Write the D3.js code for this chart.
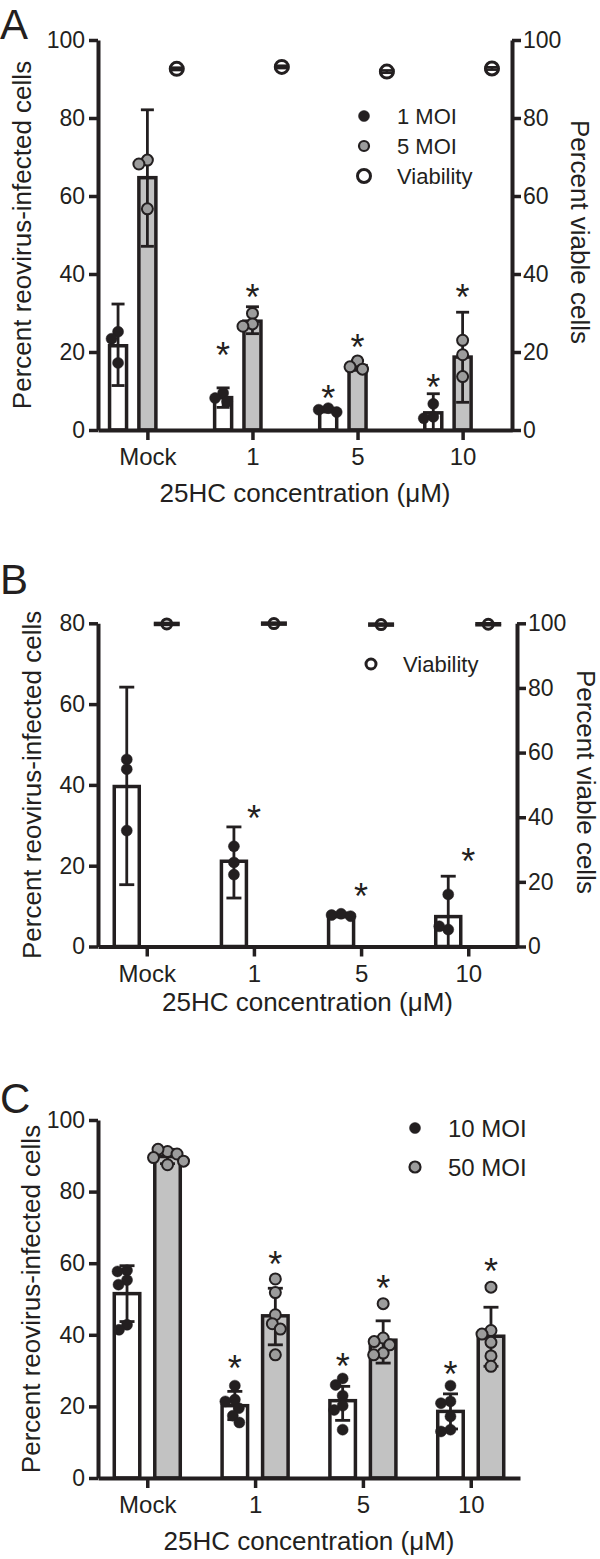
<!DOCTYPE html>
<html><head><meta charset="utf-8">
<script src="https://cdn.jsdelivr.net/npm/d3@7"></script>
<style>
body{margin:0;background:#fff}
svg{display:block}
text{font-family:Arial,"Liberation Sans",Helvetica,sans-serif;fill:#231f20}
</style>
</head><body>
<svg id="chart" width="600" height="1559"></svg>
<script>
// ---------- DATA ----------
const categories = ["Mock", "1", "5", "10"];
const xTitle = "25HC concentration (\u03bcM)";
const yTitleLeft = "Percent reovirus-infected cells";
const yTitleRight = "Percent viable cells";

// Panel A
const aSeriesNames = ["1 MOI", "5 MOI", "Viability"];
const aMoi1Mean = [21.6, 8.3, 5.1, 4.4];
const aMoi1Low = [11.4, 5.8, 4.6, 0];
const aMoi1High = [32.3, 10.8, 5.6, 9.3];
const aMoi1Points = [[25.2, 23.4, 17.2], [9.5, 8.2, 7.3], [5.6, 5.2, 4.6], [6.7, 3.4, 3.0]];
const aMoi1Stars = [null, 21.3, 10.1, 13.1];
const aMoi5Mean = [64.7, 27.9, 16.5, 18.7];
const aMoi5Low = [47.1, 24.7, 15.3, 7.1];
const aMoi5High = [82.1, 31.6, 17.8, 30.2];
const aMoi5Points = [[69.2, 68.2, 56.7], [29.9, 27.2, 26.6], [17.7, 16.2, 15.6], [23.0, 19.3, 13.7]];
const aMoi5Stars = [null, 36.0, 23.2, 36.0];
const aViabMean = [92.6, 93.1, 91.9, 92.7];
const aViabSd = [0.3, 0.3, 0.3, 0.3];
const aLeftTicks = [0, 20, 40, 60, 80, 100];
const aRightTicks = [0, 20, 40, 60, 80, 100];

// Panel B
const bSeriesNames = ["Viability"];
const bMoiMean = [39.6, 21.1, 7.8, 7.4];
const bMoiLow = [15.3, 12.0, 7.3, 0];
const bMoiHigh = [64.2, 29.6, 8.3, 17.4];
const bMoiPoints = [[46.3, 43.9, 28.7], [24.8, 20.8, 17.8], [8.1, 7.8, 7.5], [12.9, 4.2, 5.0]];
const bMoiStars = [null, 33.7, 14.5, 23.1];
const bViabMean = [99.8, 99.9, 99.6, 99.7];
const bViabSd = [0.3, 0.3, 0.3, 0.3];
const bLeftTicks = [0, 20, 40, 60, 80];
const bRightTicks = [0, 20, 40, 60, 80, 100];

// Panel C
const cSeriesNames = ["10 MOI", "50 MOI"];
const cMoi10Mean = [51.5, 20.2, 21.6, 18.6];
const cMoi10Low = [43.7, 16.3, 16.1, 13.7];
const cMoi10High = [59.3, 24.2, 25.6, 23.5];
const cMoi10Points = [[58.0, 57.7, 55.3, 54.0, 42.8, 41.4], [25.8, 21.9, 21.4, 19.5, 17.4, 15.5],
                      [27.8, 26.0, 23.0, 20.2, 19.0, 13.5], [25.8, 21.4, 20.9, 17.2, 13.5, 13.0]];
const cMoi10Stars = [null, 33.0, 33.5, 31.2];
const cMoi50Mean = [89.8, 45.3, 38.5, 39.6];
const cMoi50Low = [87.8, 37.2, 32.1, 31.2];
const cMoi50High = [91.8, 53.0, 43.9, 47.7];
const cMoi50Points = [[91.2, 91.8, 90.5, 89.5, 87.5, 88.5], [55.6, 51.8, 45.6, 43.1, 41.6, 34.4],
                      [48.7, 39.1, 38.1, 37.2, 34.9, 34.4], [53.3, 41.2, 40.2, 37.9, 34.1, 31.2]];
const cMoi50Stars = [null, 61.9, 55.3, 60.0];
const cLeftTicks = [0, 20, 40, 60, 80, 100];

// ---------- DRAWING ----------
const INK = "#231f20", BAR_GRAY = "#c2c2c2", PT_GRAY = "#9c9c9c";
const STAR_FS = 36, TITLE_FS = 26;
const svg = d3.select("#chart");

function swarmOffsets(pys, r) {
  const placed = [], out = [];
  const minD = 2 * r * 0.85;
  pys.forEach(py => {
    let off = 0;
    outer:
    for (let k = 0; k <= 60; k++) {
      const cands = k === 0 ? [0] : [-k * 0.5, k * 0.5];
      for (const c of cands) {
        if (placed.every(p => Math.hypot(p[0] - c, p[1] - py) >= minD)) { off = c; break outer; }
      }
    }
    placed.push([off, py]); out.push(off);
  });
  return out;
}

function styleAxis(sel, fs) {
  sel.select(".domain").attr("stroke", INK).attr("stroke-width", 4);
  sel.selectAll(".tick line").attr("stroke", INK).attr("stroke-width", 3.5);
  sel.selectAll(".tick text").attr("fill", INK).style("font-size", fs + "px")
     .style("font-family", 'Arial,"Liberation Sans",Helvetica,sans-serif');
}

function panel(o) {
  const g = svg.append("g");
  const x = d3.scalePoint().domain(categories).range([o.x0, o.x1]).padding(o.pad);
  const y = d3.scaleLinear().domain([0, o.yMax]).range([o.yBottom, o.yTop]);
  const slot = d3.scaleBand().domain(o.slots).range([-o.slotSpan / 2, o.slotSpan / 2]);
  const sc = name => slot(name) + slot.bandwidth() / 2;

  // bars
  o.bars.forEach(s => {
    categories.forEach((c, i) => {
      const cx = x(c) + sc(s.name);
      g.append("rect")
        .attr("x", cx - o.barW / 2).attr("y", y(s.mean[i]))
        .attr("width", o.barW).attr("height", y(0) - y(s.mean[i]))
        .attr("fill", s.fill).attr("stroke", INK).attr("stroke-width", 3.5);
    });
  });
  // error bars
  o.bars.forEach(s => {
    categories.forEach((c, i) => {
      const cx = x(c) + sc(s.name);
      const lo = y(Math.max(0, s.low[i])), hi = y(s.high[i]);
      const eg = g.append("g").attr("stroke", INK).attr("stroke-width", 2.8);
      eg.append("line").attr("x1", cx).attr("x2", cx).attr("y1", lo).attr("y2", hi);
      eg.append("line").attr("x1", cx - o.capW).attr("x2", cx + o.capW).attr("y1", hi).attr("y2", hi);
      if (s.low[i] > 0) eg.append("line").attr("x1", cx - o.capW).attr("x2", cx + o.capW).attr("y1", lo).attr("y2", lo);
    });
  });
  // points
  o.bars.forEach(s => {
    categories.forEach((c, i) => {
      const cx = x(c) + sc(s.name);
      const pys = s.points[i].map(v => y(v));
      const offs = swarmOffsets(pys, o.ptR);
      pys.forEach((py, j) => {
        g.append("circle").attr("cx", cx + offs[j]).attr("cy", py).attr("r", o.ptR)
          .attr("fill", s.ptFill).attr("stroke", INK).attr("stroke-width", s.ptFill === INK ? 0.5 : 2);
      });
    });
  });
  // stars
  o.bars.forEach(s => {
    categories.forEach((c, i) => {
      if (s.stars[i] == null) return;
      const cx = x(c) + (o.starAtTick ? 0 : sc(s.name));
      g.append("text").attr("x", cx).attr("y", y(s.stars[i]) + 0.58 * STAR_FS)
        .attr("text-anchor", "middle").style("font-size", STAR_FS + "px").text("*");
    });
  });

  // viability (right axis)
  let yR = null;
  if (o.viab) {
    yR = d3.scaleLinear().domain([0, 100]).range([o.yBottom, o.yTop]);
    categories.forEach((c, i) => {
      const cx = x(c) + sc("Viability");
      const m = yR(o.viab.mean[i]);
      const lo = yR(o.viab.mean[i] - o.viab.sd[i]), hi = yR(o.viab.mean[i] + o.viab.sd[i]);
      g.append("circle").attr("cx", cx).attr("cy", m).attr("r", o.viab.r)
        .attr("fill", "#fff").attr("stroke", INK).attr("stroke-width", 3);
      const eg = g.append("g").attr("stroke", INK).attr("stroke-width", 2.6);
      eg.append("line").attr("x1", cx).attr("x2", cx).attr("y1", lo).attr("y2", hi);
      [lo, hi].forEach(yy => eg.append("line").attr("x1", cx - o.viab.capW).attr("x2", cx + o.viab.capW).attr("y1", yy).attr("y2", yy));
    });
  }

  // axes
  const ax = g.append("g").attr("transform", `translate(${o.x0},0)`)
    .call(d3.axisLeft(y).tickValues(o.leftTicks).tickSize(9).tickSizeOuter(0).tickPadding(4));
  styleAxis(ax, 23);
  const bx = g.append("g").attr("transform", `translate(0,${o.yBottom})`)
    .call(d3.axisBottom(x).tickSize(10).tickSizeOuter(0).tickPadding(8));
  styleAxis(bx, 24);
  if (yR) {
    const rx = g.append("g").attr("transform", `translate(${o.x1},0)`)
      .call(d3.axisRight(yR).tickValues(o.rightTicks).tickSize(9).tickSizeOuter(0).tickPadding(2));
    styleAxis(rx, 23);
    g.append("text").attr("transform", `translate(${o.rTitleX},${(o.yBottom + o.yTop) / 2 - 3}) rotate(90)`)
      .attr("text-anchor", "middle").style("font-size", TITLE_FS + "px").text(yTitleRight);
  }
  // titles
  g.append("text").attr("transform", `translate(${o.lTitleX},${(o.yBottom + o.yTop) / 2}) rotate(-90)`)
    .attr("text-anchor", "middle").style("font-size", TITLE_FS + "px").text(yTitleLeft);
  g.append("text").attr("x", (o.x0 + o.x1) / 2).attr("y", o.xTitleY)
    .attr("text-anchor", "middle").style("font-size", TITLE_FS + "px").text(xTitle);
  g.append("text").attr("x", 0).attr("y", o.letterY).style("font-size", "42px").text(o.letter);

  // legend
  o.legend.forEach((L, k) => {
    const ly = o.legY + k * o.legStep;
    if (L.kind === "open") {
      g.append("circle").attr("cx", o.legX).attr("cy", ly).attr("r", L.r)
        .attr("fill", "#fff").attr("stroke", INK).attr("stroke-width", 3);
    } else {
      g.append("circle").attr("cx", o.legX).attr("cy", ly).attr("r", L.r)
        .attr("fill", L.fill).attr("stroke", INK).attr("stroke-width", L.fill === INK ? 0.5 : 2.2);
    }
    g.append("text").attr("x", o.legX + o.legGap).attr("y", ly).attr("dy", "0.36em")
      .style("font-size", o.legFs + "px").text(L.label);
  });
}

// Panel A
panel({
  letter: "A", letterY: 39,
  x0: 98, x1: 512, pad: 0.47, yBottom: 430, yTop: 40, yMax: 100,
  slots: ["1 MOI", "5 MOI", "Viability"], slotSpan: 88, barW: 17, capW: 6.5, ptR: 5.5,
  leftTicks: aLeftTicks, rightTicks: aRightTicks,
  bars: [
    { name: "1 MOI", mean: aMoi1Mean, low: aMoi1Low, high: aMoi1High, points: aMoi1Points, stars: aMoi1Stars, fill: "#fff", ptFill: INK },
    { name: "5 MOI", mean: aMoi5Mean, low: aMoi5Low, high: aMoi5High, points: aMoi5Points, stars: aMoi5Stars, fill: BAR_GRAY, ptFill: PT_GRAY }
  ],
  viab: { mean: aViabMean, sd: aViabSd, r: 6.5, capW: 7.5 },
  lTitleX: 31, rTitleX: 571, xTitleY: 502,
  legX: 364, legY: 116, legStep: 30, legGap: 33, legFs: 22,
  legend: [
    { label: aSeriesNames[0], kind: "fill", fill: INK, r: 5.5 },
    { label: aSeriesNames[1], kind: "fill", fill: PT_GRAY, r: 5 },
    { label: aSeriesNames[2], kind: "open", r: 6.5 }
  ]
});

// Panel B
panel({
  letter: "B", letterY: 594,
  x0: 98, x1: 517, pad: 0.455, yBottom: 946.5, yTop: 623.3, yMax: 80,
  slots: ["1 MOI", "Viability"], slotSpan: 80, barW: 25, capW: 7.5, ptR: 5.5, starAtTick: true,
  leftTicks: bLeftTicks, rightTicks: bRightTicks,
  bars: [
    { name: "1 MOI", mean: bMoiMean, low: bMoiLow, high: bMoiHigh, points: bMoiPoints, stars: bMoiStars, fill: "#fff", ptFill: INK }
  ],
  viab: { mean: bViabMean, sd: bViabSd, r: 5, capW: 13 },
  lTitleX: 41, rTitleX: 577, xTitleY: 1011,
  legX: 371, legY: 664, legStep: 30, legGap: 32, legFs: 22,
  legend: [{ label: bSeriesNames[0], kind: "open", r: 5 }]
});

// Panel C
panel({
  letter: "C", letterY: 1113,
  x0: 98, x1: 520, pad: 0.457, yBottom: 1478, yTop: 1120, yMax: 100,
  slots: ["10 MOI", "50 MOI"], slotSpan: 81, barW: 25.5, capW: 7.5, ptR: 5.5,
  leftTicks: cLeftTicks,
  bars: [
    { name: "10 MOI", mean: cMoi10Mean, low: cMoi10Low, high: cMoi10High, points: cMoi10Points, stars: cMoi10Stars, fill: "#fff", ptFill: INK },
    { name: "50 MOI", mean: cMoi50Mean, low: cMoi50Low, high: cMoi50High, points: cMoi50Points, stars: cMoi50Stars, fill: BAR_GRAY, ptFill: PT_GRAY }
  ],
  viab: null,
  lTitleX: 40, xTitleY: 1550,
  legX: 415, legY: 1128, legStep: 39, legGap: 33, legFs: 24,
  legend: [
    { label: cSeriesNames[0], kind: "fill", fill: INK, r: 5.5 },
    { label: cSeriesNames[1], kind: "fill", fill: PT_GRAY, r: 5.5 }
  ]
});
</script>
</body></html>
